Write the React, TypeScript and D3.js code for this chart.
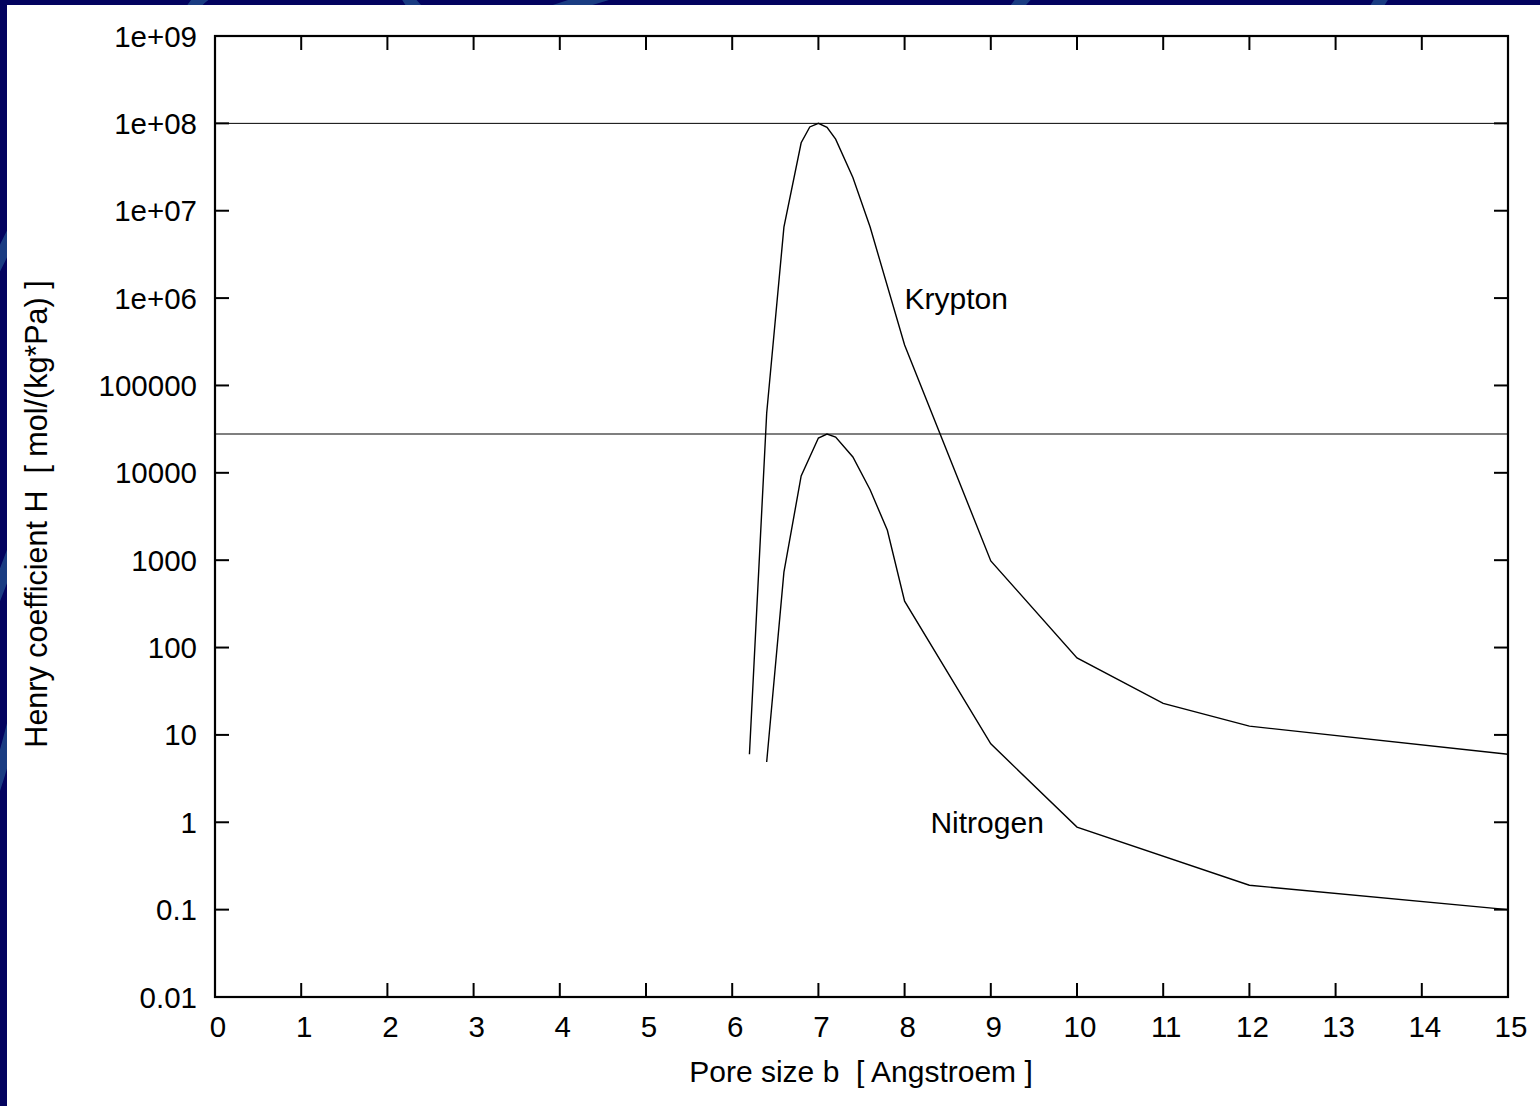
import React from 'react';
import * as d3 from 'd3';

// pore size b [Angstroem]
const kryptonX = [6.2, 6.4, 6.6, 6.8, 6.9, 7.0, 7.1, 7.2, 7.4, 7.6, 8.0, 9.0, 10.0, 11.0, 12.0, 15.0];
const kryptonH = [6, 48000, 6.5e6, 6.0e7, 9.1e7, 1.0e8, 9.0e7, 6.6e7, 2.4e7, 6.5e6, 2.9e5, 980, 76, 23, 12.6, 6];

const nitrogenX = [6.4, 6.6, 6.8, 7.0, 7.1, 7.2, 7.4, 7.6, 7.8, 8.0, 9.0, 10.0, 12.0, 15.0];
const nitrogenH = [4.9, 730, 9200, 25000, 27800, 25700, 15200, 6400, 2200, 340, 7.9, 0.88, 0.19, 0.1];

// horizontal reference lines (peak values)
const refLines = [1e8, 27800];

const xTicks = d3.range(0, 16);
const yTicks = [0.01, 0.1, 1, 10, 100, 1000, 10000, 100000, 1e6, 1e7, 1e8, 1e9];
const yTickLabels = ['0.01', '0.1', '1', '10', '100', '1000', '10000', '100000', '1e+06', '1e+07', '1e+08', '1e+09'];

const W = 1540, H = 1106;
const left = 215, right = 1508, top = 36, bottom = 997;
const font = '"Liberation Sans", Arial, sans-serif';

export default function App() {
  const x = d3.scaleLinear().domain([0, 15]).range([left, right]);
  const y = d3.scaleLog().domain([0.01, 1e9]).range([bottom, top]);

  const line = d3.line<[number, number]>()
    .x(d => x(d[0]))
    .y(d => y(d[1]));

  const kr = kryptonX.map((v, i) => [v, kryptonH[i]] as [number, number]);
  const n2 = nitrogenX.map((v, i) => [v, nitrogenH[i]] as [number, number]);

  const tick = 14;

  return (
    <svg width={W} height={H} style={{ position: 'absolute', left: 0, top: 0, display: 'block' }}>
      {/* slide background */}
      <rect x={0} y={0} width={W} height={H} fill="#03035f" />
      <g stroke="#1d4386" strokeWidth={12} fill="none" opacity={0.9}>
        <path d="M 190 12 Q 200 -5 215 -10" />
        <path d="M 405 -8 Q 410 4 422 14" />
        <path d="M 545 14 Q 580 2 615 -8" />
        <path d="M 1012 14 Q 1018 4 1030 -8" />
        <path d="M 1372 14 Q 1378 4 1386 -8" />
        <path d="M -6 270 Q 4 250 14 230" />
        <path d="M -6 600 Q 4 575 14 548" />
        <path d="M -6 790 Q 4 760 14 720" />
      </g>
      <rect x={7} y={5} width={W - 7} height={H - 5} fill="#ffffff" />

      {/* reference lines */}
      {refLines.map((v, i) => (
        <line key={'r' + i} x1={left} x2={right} y1={y(v)} y2={y(v)}
          stroke={i === 0 ? '#000' : '#555'} strokeWidth={i === 0 ? 1 : 1.5} />
      ))}

      {/* curves */}
      <path d={line(kr) || ''} fill="none" stroke="#000" strokeWidth={1.4} />
      <path d={line(n2) || ''} fill="none" stroke="#000" strokeWidth={1.4} />

      {/* ticks */}
      <g stroke="#000" strokeWidth={2}>
        {xTicks.map(t => (
          <g key={'xt' + t}>
            <line x1={x(t)} x2={x(t)} y1={bottom} y2={bottom - tick} />
            <line x1={x(t)} x2={x(t)} y1={top} y2={top + tick} />
          </g>
        ))}
        {yTicks.map(t => (
          <g key={'yt' + t}>
            <line x1={left} x2={left + tick} y1={y(t)} y2={y(t)} />
            <line x1={right} x2={right - tick} y1={y(t)} y2={y(t)} />
          </g>
        ))}
      </g>

      {/* frame */}
      <rect x={left} y={top} width={right - left} height={bottom - top} fill="none" stroke="#000" strokeWidth={2.2} />

      {/* tick labels */}
      <g fontFamily={font} fontSize={29.5} fill="#000">
        {xTicks.map(t => (
          <text key={'xl' + t} x={x(t) + 3} y={1037} textAnchor="middle">{t}</text>
        ))}
        {yTicks.map((t, i) => (
          <text key={'yl' + t} x={197} y={y(t)} textAnchor="end" dominantBaseline="central">{yTickLabels[i]}</text>
        ))}
      </g>

      {/* axis titles */}
      <text x={861} y={1082} fontFamily={font} fontSize={30} textAnchor="middle" xmlSpace="preserve">
        {'Pore size b  [ Angstroem ]'}
      </text>
      <text transform="translate(47,514) rotate(-90)" fontFamily={font} fontSize={30.5} textAnchor="middle" xmlSpace="preserve">
        {'Henry coefficient H  [ mol/(kg*Pa) ]'}
      </text>

      {/* curve labels */}
      <text x={x(8.0)} y={y(1e6)} fontFamily={font} fontSize={30} dominantBaseline="central">Krypton</text>
      <text x={x(8.3)} y={y(1)} fontFamily={font} fontSize={30} dominantBaseline="central">Nitrogen</text>
    </svg>
  );
}
